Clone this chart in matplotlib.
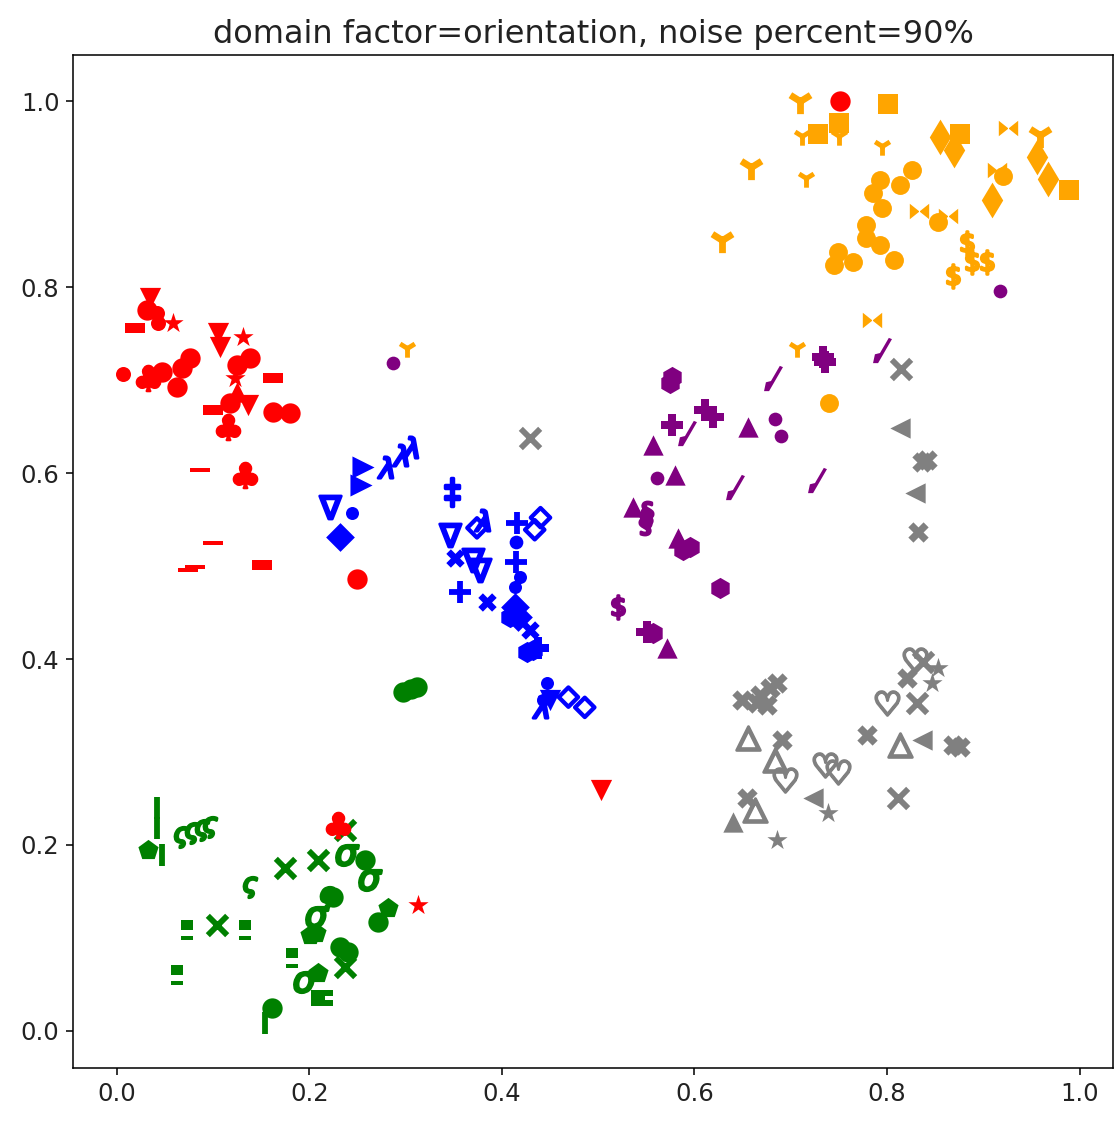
import matplotlib
matplotlib.use("Agg")
import matplotlib.pyplot as plt
import numpy as np
from matplotlib.path import Path

# embedded 2-D coordinates, one array triple per class
red_x = [0.034, 0.031, 0.042, 0.043, 0.058, 0.019, 0.105, 0.107, 0.131, 0.138, 0.125, 0.123, 0.125,
         0.117, 0.136, 0.100, 0.162, 0.162, 0.180, 0.115, 0.006, 0.032, 0.047, 0.068, 0.076, 0.062,
         0.086, 0.133, 0.100, 0.081, 0.074, 0.151, 0.249, 0.751, 0.503, 0.230, 0.313]
red_y = [0.788, 0.775, 0.772, 0.761, 0.761, 0.756, 0.751, 0.735, 0.746, 0.724, 0.716, 0.702, 0.687,
         0.675, 0.673, 0.668, 0.702, 0.666, 0.665, 0.649, 0.706, 0.702, 0.709, 0.713, 0.724, 0.692,
         0.603, 0.598, 0.525, 0.499, 0.496, 0.501, 0.486, 1.000, 0.259, 0.222, 0.136]
red_m = ['v', 'btn', 'ring', 'ring', 'star', 'pill', 'v', 'v', 'star', 'btn', 'btn', 'star', '^',
         'btn', 'v', 'pill', 'pill', 'btn', 'btn', 'club', 'ring', 'club', 'btn', 'btn', 'btn', 'btn',
         'dash', 'club', 'dash', 'dash', 'dash', 'pill', 'btn', 'btn', 'v', 'club', 'star']

orange_x = [0.710, 0.712, 0.728, 0.750, 0.750, 0.801, 0.795, 0.659, 0.716, 0.629, 0.855, 0.876,
            0.870, 0.926, 0.959, 0.956, 0.967, 0.989, 0.909, 0.914, 0.921, 0.793, 0.826, 0.813,
            0.785, 0.795, 0.778, 0.778, 0.793, 0.807, 0.749, 0.745, 0.765, 0.833, 0.853, 0.863,
            0.883, 0.888, 0.904, 0.869, 0.740, 0.707, 0.784, 0.301]
orange_y = [1.000, 0.962, 0.965, 0.976, 0.962, 0.997, 0.952, 0.929, 0.917, 0.851, 0.961, 0.965,
            0.947, 0.971, 0.963, 0.940, 0.916, 0.904, 0.894, 0.926, 0.919, 0.915, 0.926, 0.910,
            0.901, 0.885, 0.867, 0.853, 0.845, 0.829, 0.838, 0.824, 0.827, 0.882, 0.870, 0.876,
            0.847, 0.827, 0.827, 0.812, 0.675, 0.734, 0.765, 0.734]
orange_m = ['Y', 'tri', 's', 's', 'tri', 's', 'tri', 'Y', 'tri', 'Y', 'd', 's',
            'd', 'bow', 'Y', 'd', 'd', 's', 'd', 'bow', 'o', 'o', 'o', 'o',
            'o', 'o', 'o', 'o', 'o', 'o', 'o', 'o', 'o', 'bow', 'o', 'bow',
            'dollar', 'dollar', 'dollar', 'dollar', 'o', 'tri', 'bow', 'tri']

blue_x = [0.256, 0.253, 0.278, 0.294, 0.304, 0.221, 0.244, 0.232, 0.348, 0.379, 0.374, 0.346,
          0.416, 0.440, 0.434, 0.415, 0.415, 0.351, 0.370, 0.377, 0.419, 0.414, 0.356, 0.384,
          0.414, 0.408, 0.417, 0.429, 0.432, 0.426, 0.437, 0.447, 0.443, 0.450, 0.469, 0.486, 0.440]
blue_y = [0.606, 0.587, 0.606, 0.619, 0.628, 0.563, 0.557, 0.531, 0.580, 0.549, 0.541, 0.533,
          0.546, 0.552, 0.539, 0.526, 0.504, 0.509, 0.506, 0.496, 0.488, 0.477, 0.472, 0.461,
          0.456, 0.445, 0.445, 0.431, 0.410, 0.408, 0.412, 0.374, 0.356, 0.356, 0.359, 0.348, 0.348]
blue_m = ['>', '>', 'lam', 'lam', 'lam', 'nabla', 'drop', 'D', 'dagger', 'lam', 'Dopen', 'nabla',
          '+', 'Dopen', 'Dopen', 'dot', '+', 'X', 'nabla', 'nabla', 'drop', 'drop', '+', 'X',
          'D', 'blob', 'D', 'X', 'blob', 'blob', 'P', 'drop', 'drop', 'v', 'Dopen', 'Dopen', 'lam']

purple_x = [0.577, 0.575, 0.682, 0.795, 0.736, 0.734, 0.577, 0.619, 0.611, 0.592, 0.557, 0.656,
            0.684, 0.690, 0.561, 0.580, 0.642, 0.536, 0.551, 0.549, 0.583, 0.595, 0.588, 0.627,
            0.521, 0.551, 0.557, 0.571, 0.287, 0.917, 0.727]
purple_y = [0.703, 0.697, 0.702, 0.732, 0.719, 0.725, 0.652, 0.660, 0.668, 0.643, 0.630, 0.649,
            0.658, 0.640, 0.595, 0.598, 0.585, 0.563, 0.557, 0.546, 0.530, 0.520, 0.517, 0.476,
            0.456, 0.429, 0.428, 0.412, 0.718, 0.796, 0.592]
purple_m = ['blob', 'blob', 'slash', 'slash', 'P', 'P', 'P', 'P', 'P', 'slash', '^', '^',
            'dot', 'dot', 'dot', '^', 'slash', '^', 'zig', 'zig', '^', 'blob', 'blob', 'blob',
            'dollar', 'P', 'blob', '^', 'dot', 'dot', 'slash']

gray_x = [0.429, 0.815, 0.814, 0.842, 0.836, 0.829, 0.832, 0.649, 0.668, 0.678, 0.686, 0.665,
          0.675, 0.656, 0.691, 0.684, 0.694, 0.736, 0.749, 0.723, 0.739, 0.655, 0.663, 0.640,
          0.686, 0.800, 0.831, 0.779, 0.814, 0.836, 0.869, 0.876, 0.811, 0.829, 0.837, 0.853,
          0.847, 0.821]
gray_y = [0.638, 0.712, 0.648, 0.614, 0.612, 0.579, 0.537, 0.356, 0.361, 0.369, 0.374, 0.353,
          0.351, 0.315, 0.313, 0.291, 0.270, 0.286, 0.279, 0.251, 0.234, 0.251, 0.238, 0.225,
          0.205, 0.353, 0.353, 0.318, 0.308, 0.313, 0.308, 0.305, 0.251, 0.399, 0.397, 0.390,
          0.374, 0.380]
gray_m = ['x', 'x', '<', 'gblob', 'gblob', '<', 'gblob', 'gblob', 'gblob', 'gblob', 'gblob', 'gblob',
          'gblob', 'tri_open', 'gblob', 'tri_open', 'heart', 'heart', 'heart', '<', 'star', 'gblob',
          'tri_open', '^', 'star', 'heart', 'x', 'gblob', 'tri_open', '<', 'gblob', 'gblob',
          'x', 'heart', 'x', 'star', 'star', 'gblob']

green_x = [0.042, 0.042, 0.047, 0.032, 0.066, 0.078, 0.088, 0.097, 0.175, 0.209, 0.239, 0.258,
           0.263, 0.237, 0.138, 0.224, 0.218, 0.282, 0.271, 0.208, 0.201, 0.207, 0.232, 0.240,
           0.237, 0.073, 0.104, 0.133, 0.062, 0.182, 0.209, 0.195, 0.213, 0.161, 0.154, 0.297,
           0.305, 0.312]
green_y = [0.240, 0.218, 0.189, 0.195, 0.209, 0.213, 0.216, 0.219, 0.175, 0.184, 0.189, 0.184,
           0.162, 0.216, 0.155, 0.144, 0.144, 0.132, 0.117, 0.123, 0.103, 0.105, 0.090, 0.085,
           0.069, 0.109, 0.114, 0.109, 0.060, 0.079, 0.062, 0.053, 0.036, 0.025, 0.009, 0.365,
           0.368, 0.370]
green_m = ['bar', 'bar', 'bar', 'p', 'vsig', 'vsig', 'vsig', 'vsig', 'x', 'x', 'sigma', 'btn',
           'sigma', 'x', 'vsig', 'btn', 'vsig', 'p', 'btn', 'sigma', 'p', 'p', 'btn', 'btn',
           'x', 'eq', 'x', 'eq', 'eq', 'eq', 'p', 'sigma', 'C', 'btn', 'bar', 'btn',
           'btn', 'btn']

classes = [
    (gray_x, gray_y, gray_m, 'gray'),
    (purple_x, purple_y, purple_m, 'purple'),
    (blue_x, blue_y, blue_m, 'blue'),
    (green_x, green_y, green_m, 'green'),
    (orange_x, orange_y, orange_m, 'orange'),
    (red_x, red_y, red_m, 'red'),
]

title = "domain factor=orientation, noise percent=90%"

# a few hand-made glyph shapes
pill = [(-1, -0.45), (1, -0.45), (1, 0.45), (-1, 0.45)]
dash = [(-1, -0.2), (1, -0.2), (1, 0.2), (-1, 0.2)]
bowtie = [(-1, -0.8), (-1, 0.8), (1, -0.8), (1, 0.8)]
slash = [(-0.75, -1.0), (-0.35, -1.0), (0.75, 0.9), (0.5, 1.0), (-0.2, -0.2), (-0.6, -0.3)]
eq_glyph = Path.make_compound_path(
    Path([(-0.6, 0.0), (0.6, 0.0), (0.6, 1.0), (-0.6, 1.0), (-0.6, 0.0)], closed=True),
    Path([(-0.6, -1.0), (0.6, -1.0), (0.6, -0.55), (-0.6, -0.55), (-0.6, -1.0)], closed=True),
)
cglyph = [(-1, -0.7), (1, -0.7), (1, -0.15), (0.3, -0.15), (0.3, 0.15), (1, 0.15), (1, 0.7), (-1, 0.7)]

# key -> (marker, size, linewidth, filled)
style = {
    'btn': ('o', 110, 0, True),
    'ring': ('o', 60, 0, True),
    'o': ('o', 95, 0, True),
    'dot': ('o', 50, 0, True),
    'pill': (pill, 110, 0, True),
    'dash': (dash, 110, 0, True),
    'club': (r'$\clubsuit$', 170, 1.2, True),
    'v': ('v', 120, 0, True),
    '^': ('^', 110, 0, True),
    '>': ('>', 130, 0, True),
    '<': ('<', 110, 0, True),
    'star': ('*', 120, 0, True),
    'Y': ('1', 170, 3.5, True),
    'tri': ('1', 90, 2.5, True),
    's': ('s', 110, 0, True),
    'd': ('d', 170, 0, True),
    'bow': (bowtie, 100, 0, True),
    'dollar': (r'$\$$', 150, 1.5, True),
    'lam': (r'$\lambda$', 120, 1.5, True),
    'nabla': (r'$\nabla$', 140, 1.5, True),
    'D': ('D', 110, 0, True),
    'Dopen': ('D', 50, 2.2, False),
    'dagger': (r'$\ddagger$', 200, 1.8, True),
    '+': ('+', 130, 3, True),
    'X': ('X', 90, 0, True),
    'blob': ('h', 120, 0, True),
    'drop': ('o', 45, 0, True),
    'P': ('P', 130, 0, True),
    'slash': (slash, 170, 0, True),
    'zig': (r'$\S$', 140, 1.5, True),
    'x': ('x', 100, 3, True),
    'gblob': ('X', 110, 0, True),
    'heart': (r'$\heartsuit$', 150, 1.5, True),
    'tri_open': (r'$\triangle$', 150, 1.5, True),
    'sigma': (r'$\sigma$', 130, 1.5, True),
    'vsig': (r'$\varsigma$', 110, 1.5, True),
    'eq': (eq_glyph, 110, 0, True),
    'bar': ('|', 130, 3, True),
    'p': ('p', 120, 0, True),
    'C': (cglyph, 140, 0, True),
}

fig = plt.figure(figsize=(1116 / 139.5, 1121 / 139.5), dpi=139.5)
ax = fig.add_axes([73 / 1116, 53 / 1121, 1040 / 1116, 1013 / 1121])

for xs, ys, ms, color in classes:
    xs = np.asarray(xs)
    ys = np.asarray(ys)
    ms = np.asarray(ms)
    for key in dict.fromkeys(ms):
        mk, size, lw, filled = style[key]
        sel = ms == key
        if filled:
            ax.scatter(xs[sel], ys[sel], marker=mk, s=size, c=color, linewidths=lw)
        else:
            ax.scatter(xs[sel], ys[sel], marker=mk, s=size, facecolors='none',
                       edgecolors=color, linewidths=lw)

ax.set_xlim(-0.0457, 1.0348)
ax.set_ylim(-0.0398, 1.0495)
ax.set_xticks([0.0, 0.2, 0.4, 0.6, 0.8, 1.0])
ax.set_yticks([0.0, 0.2, 0.4, 0.6, 0.8, 1.0])
ax.tick_params(labelsize=12.5, labelcolor='#222222')
ax.set_title(title, fontsize=16.5, color='#222222')

fig.savefig("out.png", dpi=139.5)
